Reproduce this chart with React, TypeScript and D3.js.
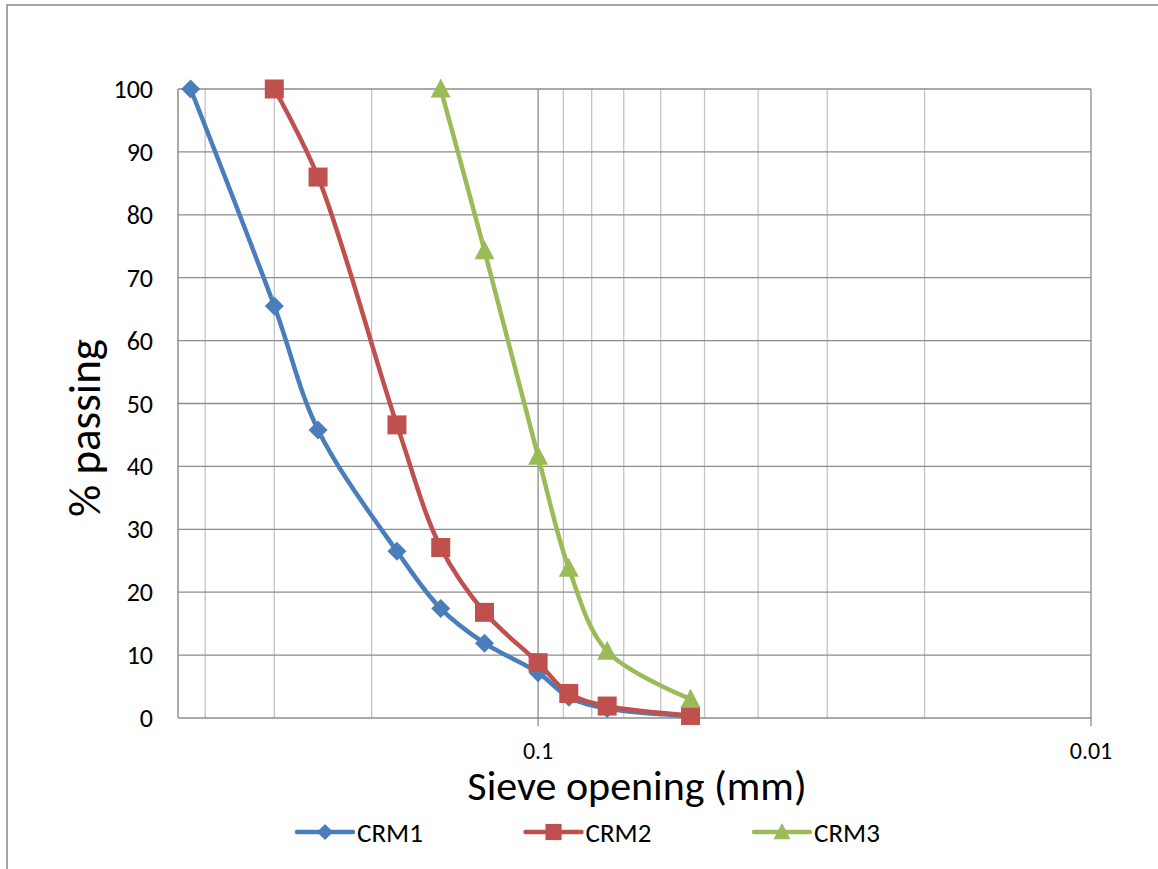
import React from "react";
import * as d3 from "d3";

// Sieve openings (mm) shared by the three gradings
const sieves = [0.425, 0.3, 0.25, 0.18, 0.15, 0.125, 0.1, 0.088, 0.075, 0.053];

const crm1 = [100, 65.5, 45.8, 26.5, 17.4, 11.9, 7.2, 3.3, 1.5, 0.3];
const crm2 = [null, 100, 86, 46.6, 27.1, 16.8, 8.8, 3.9, 1.9, 0.4];
const crm3 = [null, null, null, null, 100, 74.3, 41.6, 23.8, 10.6, 3.0];

const seriesNames = ["CRM1", "CRM2", "CRM3"];
const seriesColors = ["#4A7EBB", "#C0504D", "#9BBB59"];
const seriesShapes = ["diamond", "square", "triangle"];

const yTicks = [0, 10, 20, 30, 40, 50, 60, 70, 80, 90, 100];
const xMajor = [0.1, 0.01];
const xMinor = [0.4, 0.3, 0.2, 0.09, 0.08, 0.07, 0.06, 0.05, 0.04, 0.03, 0.02];
const xTickLabels = ["0.1", "0.01"];

const W = 1158;
const H = 869;
const left = 178;
const right = 1091;
const top = 89;
const bottom = 718;

const FONT = "Carlito, Calibri, Lato, sans-serif";

function Marker({ shape, x, y, color, s }: { shape: string; x: number; y: number; color: string; s: number }) {
  if (shape === "diamond") {
    const r = 9.5 * s;
    return <path d={`M${x},${y - r}L${x + r},${y}L${x},${y + r}L${x - r},${y}Z`} fill={color} />;
  }
  if (shape === "square") {
    const r = 9.5 * s;
    return <rect x={x - r} y={y - r} width={2 * r} height={2 * r} fill={color} />;
  }
  const r = 10 * s;
  return <path d={`M${x},${y - r * 1.05}L${x + r},${y + r * 0.85}L${x - r},${y + r * 0.85}Z`} fill={color} />;
}

export default function App() {
  const x = d3.scaleLog().domain([0.448, 0.01]).range([left, right]);
  const y = d3.scaleLinear().domain([0, 100]).range([bottom, top]);
  const data = [crm1, crm2, crm3];

  const line = d3
    .line<[number, number]>()
    .x((d) => x(d[0]))
    .y((d) => y(d[1]))
    .curve(d3.curveCatmullRom.alpha(0.5));

  const legendX = [325, 553.5, 782];
  const legendY = 832;

  return (
    <svg
      width={W}
      height={H}
      style={{ position: "absolute", left: 0, top: 0, background: "#fff" }}
      fontFamily={FONT}
    >
      <rect x={0} y={0} width={W} height={H} fill="#fff" />
      {/* chart frame */}
      <path d={`M7,${H}V5H${W}`} fill="none" stroke="#8a8a8a" strokeWidth={1.5} />

      {/* minor vertical gridlines */}
      {xMinor.map((v) => (
        <line key={"mi" + v} x1={x(v)} x2={x(v)} y1={top} y2={bottom} stroke="#c4c4c4" strokeWidth={1.3} />
      ))}
      {/* horizontal gridlines */}
      {yTicks.map((v) => (
        <line key={"h" + v} x1={left} x2={right} y1={y(v)} y2={y(v)} stroke="#8c8c8c" strokeWidth={1.3} />
      ))}
      {/* major vertical gridlines with tick marks */}
      {xMajor.map((v) => (
        <line key={"ma" + v} x1={x(v)} x2={x(v)} y1={top} y2={bottom + 8} stroke="#8c8c8c" strokeWidth={1.3} />
      ))}
      {/* value axis */}
      <line x1={left} x2={left} y1={top} y2={bottom} stroke="#8c8c8c" strokeWidth={1.5} />

      {/* y tick labels */}
      {yTicks.map((v) => (
        <text key={"yl" + v} x={153} y={y(v)} textAnchor="end" dominantBaseline="central" fontSize={26} fill="#000">
          {v}
        </text>
      ))}
      {/* x tick labels */}
      {xMajor.map((v, i) => (
        <text key={"xl" + v} x={x(v)} y={750} textAnchor="middle" dominantBaseline="central" fontSize={24} fill="#000">
          {xTickLabels[i]}
        </text>
      ))}

      {/* axis titles */}
      <text x={637} y={800} textAnchor="middle" fontSize={42} fill="#000">
        Sieve opening (mm)
      </text>
      <text transform="translate(100,428) rotate(-90)" textAnchor="middle" fontSize={45} fill="#000">
        % passing
      </text>

      {/* series */}
      {data.map((vals, si) => {
        const pts = sieves
          .map((s, i) => [s, vals[i]] as [number, number | null])
          .filter((p) => p[1] !== null) as [number, number][];
        return (
          <g key={"s" + si}>
            <path d={line(pts) || ""} fill="none" stroke={seriesColors[si]} strokeWidth={4.5} strokeLinejoin="round" strokeLinecap="round" />
            {pts.map((p, i) => (
              <Marker key={i} shape={seriesShapes[si]} x={x(p[0])} y={y(p[1])} color={seriesColors[si]} s={1} />
            ))}
          </g>
        );
      })}

      {/* legend */}
      {seriesNames.map((name, i) => (
        <g key={"lg" + i}>
          <line x1={legendX[i] - 28} x2={legendX[i] + 28} y1={legendY} y2={legendY} stroke={seriesColors[i]} strokeWidth={4.5} strokeLinecap="round" />
          <Marker shape={seriesShapes[i]} x={legendX[i]} y={legendY} color={seriesColors[i]} s={0.85} />
          <text x={legendX[i] + 32} y={legendY} dominantBaseline="central" fontSize={27} fill="#000">
            {name}
          </text>
        </g>
      ))}
    </svg>
  );
}
